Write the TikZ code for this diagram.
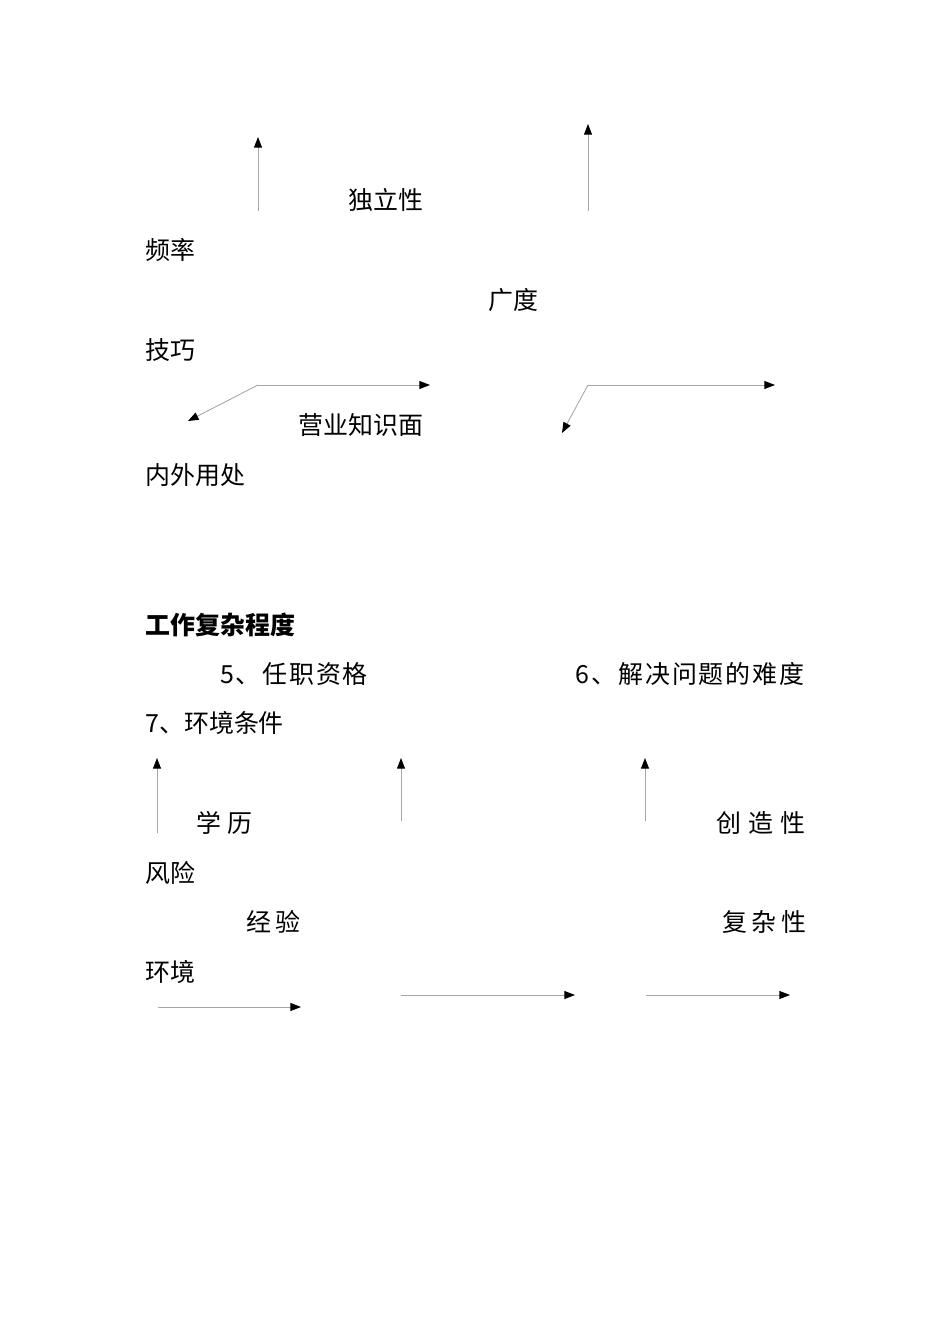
\documentclass[tikz,border=0pt]{standalone}
\usepackage{fontspec}
\setmainfont{Noto Sans CJK SC}
\usetikzlibrary{arrows.meta, positioning}
\tikzset{->, >={Triangle[color=black, length=6pt, width=4.5pt]},
  lbl/.style={anchor=west, inner sep=0pt, font=\fontsize{14.2}{17}\selectfont},
  wide/.style={font=\fontsize{14.2}{17}\selectfont\addfontfeatures{LetterSpace=#1}},
  ln/.style={draw=black!35, line width=0.5pt}}

\begin{document}
\begin{tikzpicture}[x=0.02cm, y=-0.02cm]
        \useasboundingbox (0,0) rectangle (950,1344);
        % upper part
        \node[lbl] (indep) at (348,200) {独立性};
        \node[lbl] (freq) at (145,250) {频率};
        \node[lbl] (breadth) at (488,300) {广度};
        \node[lbl] (skill) at (145,350) {技巧};
        \node[lbl] (bizknow) at (298,425) {营业知识面};
        \node[lbl] (inout) at (145,475) {内外用处};
        \coordinate (up1) at (258,211);
        \coordinate (up1tip) at (258,137);
        \coordinate (up2) at (588,211);
        \coordinate (up2tip) at (588,124);
        \coordinate (fork1) at (258,385);
        \coordinate (fork1r) at (430,385);
        \coordinate (fork1d) at (188,421);
        \coordinate (fork2) at (588,385);
        \coordinate (fork2r) at (775,385);
        \coordinate (fork2d) at (562,433);
        \draw[ln] (up1) -- (up1tip);
        \draw[ln] (up2) -- (up2tip);
        \draw[ln] (fork1) -- (fork1r);
        \draw[ln] (fork1) -- (fork1d);
        \draw[ln] (fork2) -- (fork2r);
        \draw[ln] (fork2) -- (fork2d);
        % lower part
        \node[lbl, font=\fontsize{14.2}{17}\selectfont\bfseries] (complex) at (145,625) {工作复杂程度};
        \node[lbl, wide=7] (qual) at (220,674) {5、任职资格};
        \node[lbl, wide=8] (solve) at (575,674) {6、解决问题的难度};
        \node[lbl] (envcond) at (145,723) {7、环境条件};
        \node[lbl, wide=25] (edu) at (196,823) {学历};
        \node[lbl, wide=28] (creat) at (716,823) {创造性};
        \node[lbl] (risk) at (145,873) {风险};
        \node[lbl, wide=16] (exper) at (246,922) {经验};
        \node[lbl, wide=18] (complx) at (722,922) {复杂性};
        \node[lbl] (env) at (145,972) {环境};
        \coordinate (up3) at (157,833);
        \coordinate (up3tip) at (157,758);
        \coordinate (up4) at (401,821);
        \coordinate (up4tip) at (401,758);
        \coordinate (up5) at (645,821);
        \coordinate (up5tip) at (645,758);
        \coordinate (rt1) at (158,1007);
        \coordinate (rt1tip) at (301,1007);
        \coordinate (rt2) at (401,995);
        \coordinate (rt2tip) at (575,995);
        \coordinate (rt3) at (646,995);
        \coordinate (rt3tip) at (790,995);
        \draw[ln] (up3) -- (up3tip);
        \draw[ln] (up4) -- (up4tip);
        \draw[ln] (up5) -- (up5tip);
        \draw[ln] (rt1) -- (rt1tip);
        \draw[ln] (rt2) -- (rt2tip);
        \draw[ln] (rt3) -- (rt3tip);
    \end{tikzpicture}
\end{document}
